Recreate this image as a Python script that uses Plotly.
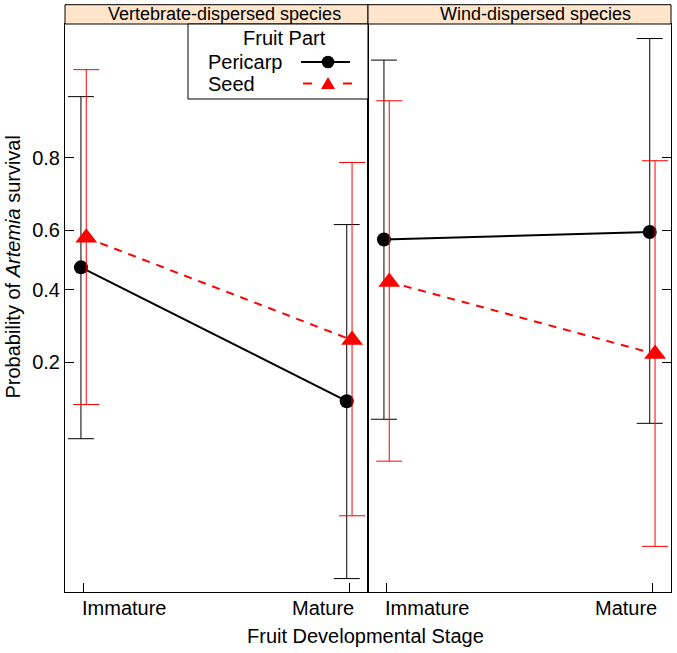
import numpy as np
import plotly.graph_objects as go

# --- data (probabilities) ---
stages = ["Immature", "Mature"]
panels = ["Vertebrate-dispersed species", "Wind-dispersed species"]

vert_pericarp = [0.475, 0.128]
vert_pericarp_lo = [0.081, 0.013]
vert_pericarp_hi = [0.902, 0.618]
vert_seed = [0.575, 0.252]
vert_seed_lo = [0.123, 0.030]
vert_seed_hi = [0.930, 0.790]

wind_pericarp = [0.569, 0.594]
wind_pericarp_lo = [0.103, 0.098]
wind_pericarp_hi = [0.938, 0.953]
wind_seed = [0.426, 0.218]
wind_seed_lo = [0.061, 0.020]
wind_seed_hi = [0.897, 0.794]

y_ticks = [0.2, 0.4, 0.6, 0.8]

FONT = "Liberation Sans, Arial, Helvetica, sans-serif"
W, H = 677, 653
L, R, T, B = 65, 6, 24, 61
PW, PH = W - L - R, H - T - B


def logit(p):
    p = np.asarray(p, dtype=float)
    return np.log(p / (1 - p))


# pixel -> paper helpers (layout decoration only)
def px(x):
    return (x - L) / PW


def py(y):
    return (T + PH - y) / PH


fig = go.Figure()

xs = np.arange(1, len(stages) + 1)
series = [
    ("x", "y", vert_pericarp, vert_pericarp_lo, vert_pericarp_hi, "black", "solid", "circle", 14, -0.01),
    ("x", "y", vert_seed, vert_seed_lo, vert_seed_hi, "red", "8px,7px", "triangle-up", 19, 0.01),
    ("x2", "y2", wind_pericarp, wind_pericarp_lo, wind_pericarp_hi, "black", "solid", "circle", 14, -0.01),
    ("x2", "y2", wind_seed, wind_seed_lo, wind_seed_hi, "red", "8px,7px", "triangle-up", 19, 0.01),
]

for xa, ya, est, lo, hi, col, dash, sym, size, off in series:
    yv = logit(est)
    fig.add_trace(go.Scatter(
        x=xs + off, y=yv,
        xaxis=xa, yaxis=ya,
        mode="lines+markers",
        line=dict(color=col, width=2, dash=dash),
        marker=dict(symbol=sym, size=size, color=col, line=dict(width=0)),
        error_y=dict(type="data", symmetric=False,
                     array=logit(hi) - yv, arrayminus=yv - logit(lo),
                     color=col, thickness=1, width=13),
        showlegend=False,
        hoverinfo="skip",
    ))

yrange = [-4.512, 3.207]
axis_common = dict(showgrid=False, zeroline=False, showline=True, linecolor="black",
                   linewidth=1, mirror=True, ticks="inside", ticklen=9,
                   tickcolor="black", tickwidth=1)

fig.update_layout(
    width=W, height=H,
    margin=dict(l=L, r=R, t=T, b=B),
    paper_bgcolor="white", plot_bgcolor="white",
    font=dict(family=FONT, size=20, color="black"),
    showlegend=False,
    xaxis=dict(domain=[0, 0.5], range=[0.93, 2.07], tickvals=list(xs),
               showticklabels=False, anchor="y", **axis_common),
    xaxis2=dict(domain=[0.5, 1], range=[0.93, 2.07], tickvals=list(xs),
                showticklabels=False, anchor="y2", **axis_common),
    yaxis=dict(range=yrange, tickvals=list(logit(y_ticks)),
               ticktext=[f"{v:.1f}" for v in y_ticks], anchor="x",
               tickfont=dict(size=20), **axis_common),
    yaxis2=dict(range=yrange, tickvals=list(logit(y_ticks)),
                showticklabels=False, side="right", anchor="x2", **axis_common),
)

shapes = []
annotations = []

# strips
strip_top = py(4.7)
for i, name in enumerate(panels):
    x0, x1 = i * 0.5, (i + 1) * 0.5
    shapes.append(dict(type="rect", xref="paper", yref="paper", x0=x0, x1=x1,
                       y0=1, y1=strip_top, fillcolor="#FFE5CC",
                       line=dict(color="black", width=1), layer="above"))
strip_cx = [225, 535]
for name, cx in zip(panels, strip_cx):
    annotations.append(dict(xref="paper", yref="paper", x=px(cx), y=(1 + strip_top) / 2,
                            text=name, showarrow=False, xanchor="center", yanchor="middle",
                            font=dict(size=18)))

# x tick labels (first left-aligned, last right-aligned as in the original)
for xa in ["x", "x2"]:
    annotations.append(dict(xref=xa, yref="paper", x=xs[0], y=py(608), text=stages[0],
                            showarrow=False, xanchor="left", yanchor="middle", xshift=-4))
    annotations.append(dict(xref=xa, yref="paper", x=xs[-1], y=py(608), text=stages[-1],
                            showarrow=False, xanchor="right", yanchor="middle", xshift=7))

# axis titles
annotations.append(dict(xref="paper", yref="paper", x=px(365), y=py(636),
                        text="Fruit Developmental Stage", showarrow=False,
                        xanchor="center", yanchor="middle", font=dict(size=20)))
annotations.append(dict(xref="paper", yref="paper", x=px(12), y=py(401),
                        text="Probability of <i>Artemia</i> survival", showarrow=False,
                        textangle=-90, xanchor="center", yanchor="bottom", font=dict(size=20)))

# legend box
shapes.append(dict(type="rect", xref="paper", yref="paper", x0=px(188), x1=0.5,
                   y0=py(99), y1=1, fillcolor="white",
                   line=dict(color="black", width=1), layer="above"))
annotations.append(dict(xref="paper", yref="paper", x=px(284), y=py(37.5), text="Fruit Part",
                        showarrow=False, xanchor="center", yanchor="middle"))
annotations.append(dict(xref="paper", yref="paper", x=px(206), y=py(61.5), text="Pericarp",
                        showarrow=False, xanchor="left", yanchor="middle"))
annotations.append(dict(xref="paper", yref="paper", x=px(206), y=py(83.5), text="Seed",
                        showarrow=False, xanchor="left", yanchor="middle"))

# legend keys
shapes.append(dict(type="line", xref="paper", yref="paper", x0=px(301), x1=px(350),
                   y0=py(62), y1=py(62), line=dict(color="black", width=2), layer="above"))
shapes.append(dict(type="circle", xref="paper", yref="paper", x0=px(321.7), x1=px(334.3),
                   y0=py(68.3), y1=py(55.7), fillcolor="black",
                   line=dict(color="black", width=0), layer="above"))
for a, b in [(303, 312), (343, 352)]:
    shapes.append(dict(type="line", xref="paper", yref="paper", x0=px(a), x1=px(b),
                       y0=py(83.5), y1=py(83.5), line=dict(color="red", width=2), layer="above"))
tri = f"M {px(321)},{py(89)} L {px(335)},{py(89)} L {px(328)},{py(77)} Z"
shapes.append(dict(type="path", xref="paper", yref="paper", path=tri, fillcolor="red",
                   line=dict(color="red", width=0), layer="above"))

fig.update_layout(shapes=shapes, annotations=annotations)

# drop the browser's default 8px body margin so the figure sits at the page corner
fig.write_html("out.html", config={"displayModeBar": False},
               post_script="document.body.style.margin='0';")
